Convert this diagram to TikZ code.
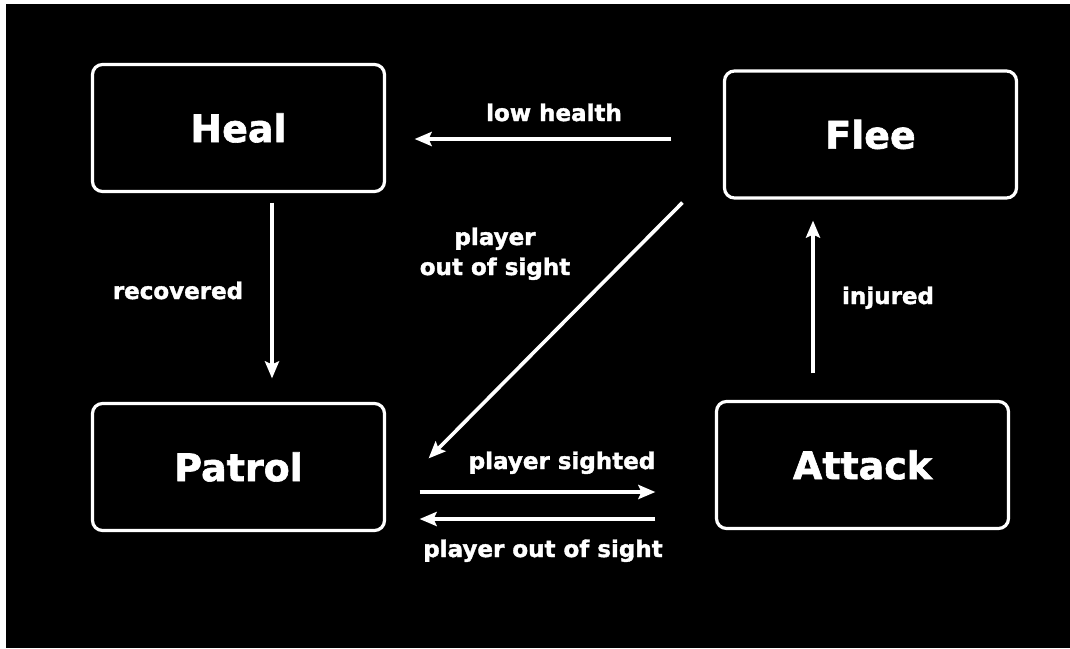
\documentclass[tikz,border=0pt]{standalone}
\usepackage{fontspec}
\setmainfont[BoldFeatures={FakeBold=1.6}]{DejaVu Sans}
\usetikzlibrary{arrows.meta,calc}

\begin{document}
\begin{tikzpicture}[x=1pt,y=-1pt,line width=3.2pt,state/.style={draw=white,rounded corners=10pt,minimum width=292pt,minimum height=127pt,text=white,font=\bfseries\fontsize{38}{44}\selectfont},lbl/.style={text=white,anchor=base,inner sep=0pt,align=center,font=\bfseries\fontsize{23}{30}\selectfont},arr/.style={draw=white,line width=3.6pt,-{Stealth[length=17pt,width=14pt,inset=3pt]}}]
\fill[white](0,0)rectangle(1070,648);
\fill[black](6,4)rectangle(1070,648);
\node[state](heal)at(238.5,128){Heal};
\node[state](flee)at(870.5,134.5){Flee};
\node[state](patrol)at(238.5,467){Patrol};
\node[state](attack)at(862.5,465){Attack};
\draw[arr,shorten <=51.5pt,shorten >=28.5pt](flee.west|-0,139)--(heal.east|-0,139);
\draw[arr,shorten <=9.5pt,shorten >=23.5pt](heal.south-|272,0)--(patrol.north-|272,0);
\draw[arr]($(flee.south west)+(-40.5,3)$)--($(patrol.north east)+(42.5,56.5)$);
\draw[arr,shorten <=26.5pt,shorten >=21pt](attack.north-|813,0)--(flee.south-|813,0);
\draw[arr,shorten <=33.5pt,shorten >=59.5pt](patrol.east|-0,492)--(attack.west|-0,492);
\draw[arr,shorten <=59.5pt,shorten >=33.5pt](attack.west|-0,519)--(patrol.east|-0,519);
\node[lbl](lowhealth)at(554,121){low health};
\node[lbl](recovered)at(178,299){recovered};
\node[lbl](outofsight)at(495,275){player\\out of sight};
\node[lbl](injured)at(888,304){injured};
\node[lbl](sighted)at(562,469){player sighted};
\node[lbl](lost)at(543,557){player out of sight};
\end{tikzpicture}
\end{document}
